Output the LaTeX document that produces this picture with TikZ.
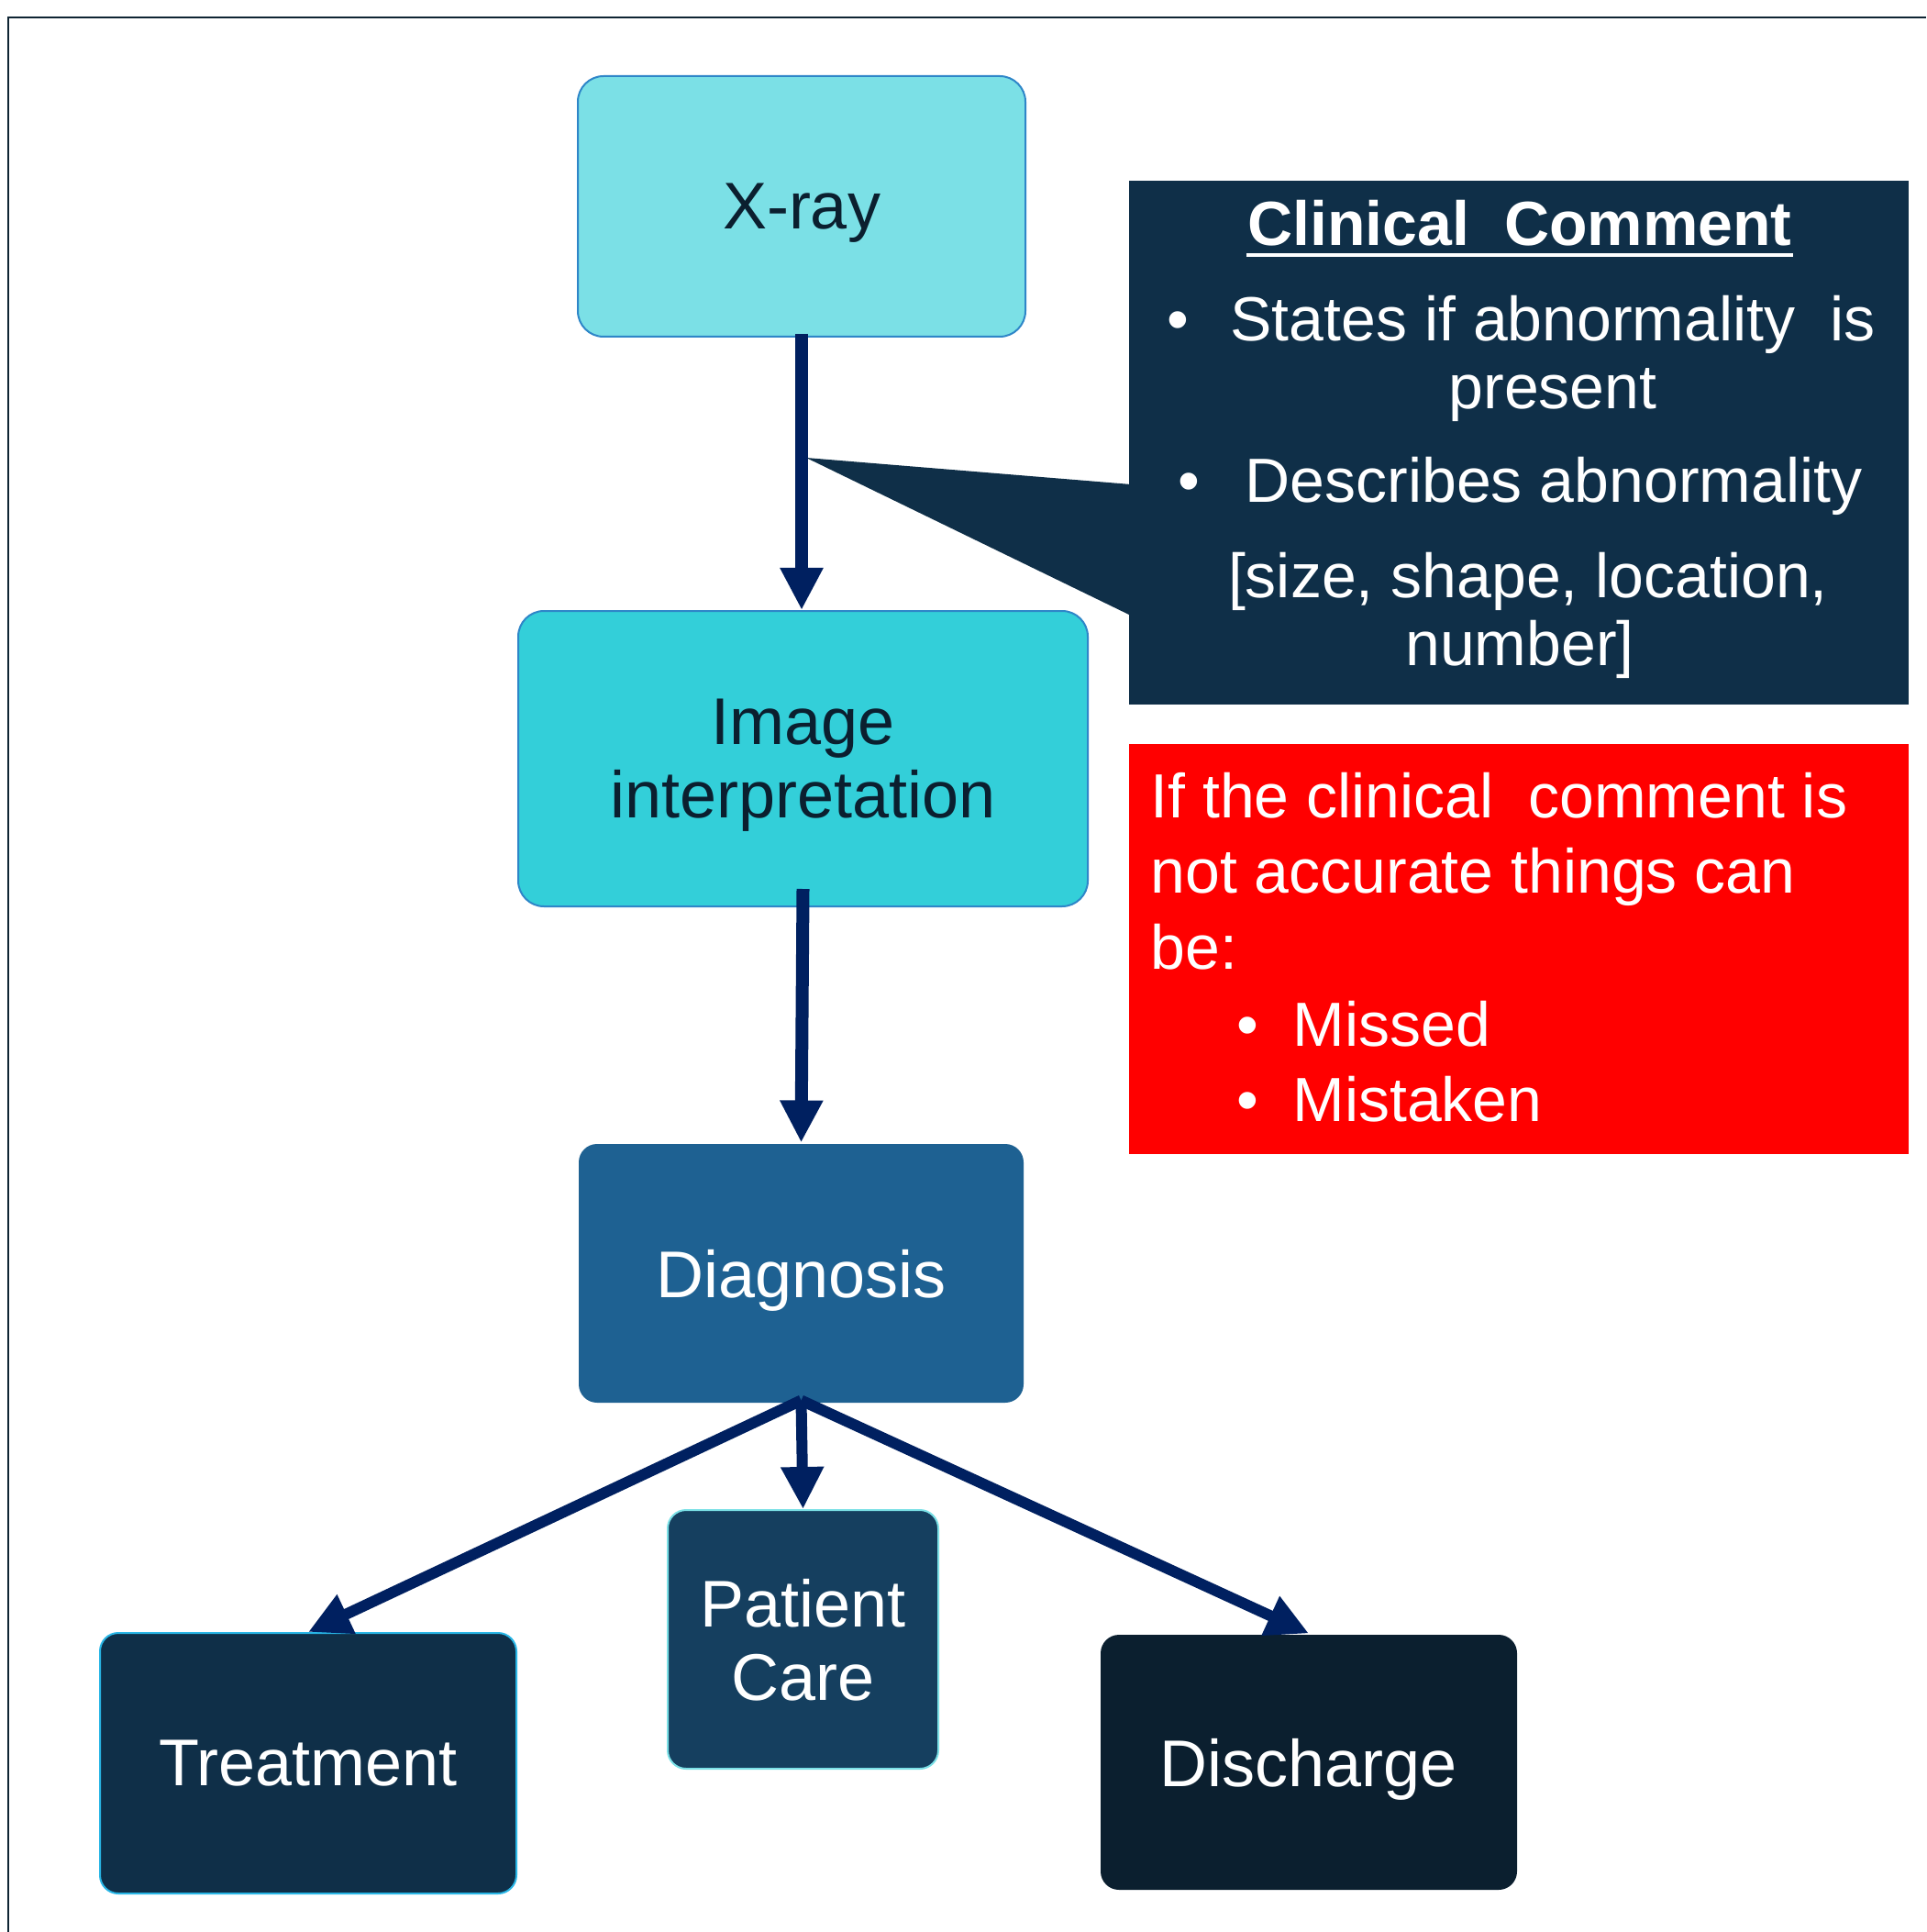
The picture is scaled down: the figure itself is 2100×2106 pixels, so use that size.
\documentclass[tikz,border=0pt]{standalone}
\usepackage{fontspec}
\setmainfont{Liberation Sans}
\usetikzlibrary{arrows.meta}

\definecolor{xrayfill}{RGB}{123,224,230}
\definecolor{interpfill}{RGB}{51,207,217}
\definecolor{edgeblue}{RGB}{46,134,200}
\definecolor{diagfill}{RGB}{30,97,146}
\definecolor{carefill}{RGB}{21,63,95}
\definecolor{navyfill}{RGB}{15,47,72}
\definecolor{darkfill}{RGB}{11,31,47}
\definecolor{edgecyan}{RGB}{41,182,230}
\definecolor{flowblue}{RGB}{0,32,96}
\definecolor{inktext}{RGB}{11,31,47}
\definecolor{alertred}{RGB}{255,0,0}

\tikzset{every picture/.style={line width=0.75pt}}
\tikzset{
  stage/.style={rounded corners=7pt, inner sep=0pt, align=center, text depth=0pt,
    font=\fontsize{18}{20}\selectfont},
  flow/.style={draw=flowblue, line width=3.5pt, -{Triangle[width=11pt,length=11.5pt]}},
  thinflow/.style={flow, line width=3pt},
  txt/.style={inner sep=0pt, text=white, font=\fontsize{17}{20}\selectfont},
}

\begin{document}
\begin{tikzpicture}[x=0.25pt,y=0.25pt,yscale=-1,xscale=1]
\useasboundingbox (0,0) rectangle (2100,2106);

%Frame
\draw [color={rgb, 255:red, 15; green, 37; blue, 51 }, line width=0.5pt] (9,2106) -- (9,19) -- (2100,19) ;

%Callout wedge
\fill [navyfill] (879,499) -- (1233,528) -- (1233,671) -- cycle ;

% Shape: Rounded Rect
\node [stage, fill=xrayfill, draw=edgeblue, line width=0.5pt, text=inktext, minimum width=122pt, minimum height=71pt] (xray) at (874,225) {X-ray};
% Shape: Rounded Rect
\node [stage, fill=interpfill, draw=edgeblue, line width=0.5pt, text=inktext, minimum width=155.25pt, minimum height=80.5pt] (interp) at (875.5,827) {Image\\interpretation};
% Shape: Rounded Rect
\node [stage, rounded corners=5pt, fill=diagfill, text=white, minimum width=121.25pt, minimum height=70.5pt] (diag) at (873.5,1388) {Diagnosis};
% Shape: Rounded Rect
\node [stage, rounded corners=5pt, fill=carefill, draw=xrayfill, line width=0.5pt, text=white, minimum width=73.75pt, minimum height=70.5pt] (care) at (875.5,1787) {Patient\\Care};
% Shape: Rounded Rect
\node [stage, rounded corners=5pt, fill=navyfill, draw=edgecyan, line width=0.5pt, text=white, minimum width=113.5pt, minimum height=71pt] (treat) at (336,1922) {Treatment};
% Shape: Rounded Rect
\node [stage, rounded corners=5pt, fill=darkfill, text=white, minimum width=113.5pt, minimum height=69.5pt] (disch) at (1427,1921) {Discharge};

% Shape: Rectangle
\node [fill=navyfill, inner sep=0pt, minimum width=212.5pt, minimum height=142.75pt] (comment) at (1656,482.5) {};
% Shape: Rectangle
\node [fill=alertred, inner sep=0pt, minimum width=212.5pt, minimum height=111.75pt] (alert) at (1656,1034.5) {};

% Text Node
\node [txt, anchor=base, font=\fontsize{17}{20}\selectfont\bfseries] (ctitle) at (1657,268) {Clinical\ \ Comment};
\draw [white, line width=1pt] ([yshift=2.5pt]ctitle.base west) -- ([yshift=2.5pt]ctitle.base east) ;
% Text Node
\node [txt, anchor=base] (cbulla) at (1284,372) {•};
\node [txt, anchor=base] (citema) at (1693,372) {States if abnormality\ \ is};
\node [txt, anchor=base] (citemb) at (1693,446) {present};
% Text Node
\node [txt, anchor=base] (cbullb) at (1296,548) {•};
\node [txt, anchor=base] (citemc) at (1694,548) {Describes abnormality};
% Text Node
\node [txt, anchor=base] (citemd) at (1666,652) {[size, shape, location,};
\node [txt, anchor=base] (citeme) at (1657,725) {number]};

% Text Node
\node [txt, anchor=base west] (alinea) at (1253,891) {If the clinical\ \ comment is};
\node [txt, anchor=base west] (alineb) at (1253,973) {not accurate things can};
\node [txt, anchor=base west] (alinec) at (1253,1056) {be:};
\node [txt, anchor=base] (abulla) at (1360,1140) {•};
\node [txt, anchor=base west] (alined) at (1408,1140) {Missed};
\node [txt, anchor=base] (abullb) at (1360,1222) {•};
\node [txt, anchor=base west] (alinee) at (1408,1222) {Mistaken};

% Connection
\draw [flow] ([yshift=-1pt]xray.south) -- (xray.south |- interp.north) ;
% Connection
\draw [flow] ([yshift=-5pt]interp.south) -- (diag.north) ;
% Connection
\draw [thinflow] ([yshift=-1pt]diag.south) -- (treat.north) ;
% Connection
\draw [thinflow] ([yshift=-1pt]diag.south) -- (care.north) ;
% Connection
\draw [thinflow] ([yshift=-1pt]diag.south) -- (disch.north) ;

\end{tikzpicture}
\end{document}
